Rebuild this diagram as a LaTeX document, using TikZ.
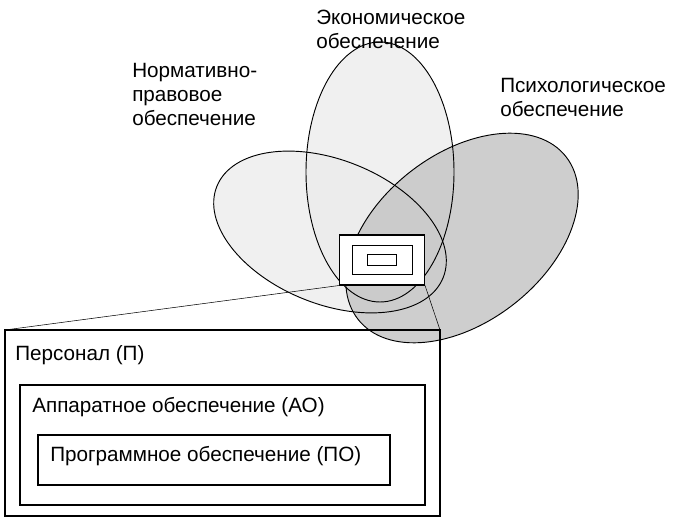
\documentclass[tikz,border=0pt]{standalone}
\usepackage{fontspec}
\setmainfont{Liberation Sans}
\begin{document}
\begin{tikzpicture}[x=0.75pt,y=-0.75pt,
  lbl/.style={font=\fontsize{15.5}{18}\selectfont,align=left,anchor=north west,inner sep=0},
  box/.style={draw,line width=0.8pt}]
\useasboundingbox (0,0) rectangle (673,523);
\begin{scope}[shift={(330,232)},rotate=-22]
\fill[gray!12] (0,0) ellipse [x radius=122,y radius=72];
\end{scope}
\fill[gray!15,opacity=0.8] (380,172) ellipse [x radius=74,y radius=130];
\begin{scope}[shift={(462,238)},rotate=38]
\fill[gray!45,opacity=0.85] (0,0) ellipse [x radius=132,y radius=84];
\draw[line width=0.7pt] (0,0) ellipse [x radius=132,y radius=84];
\end{scope}
\draw[line width=0.7pt] (380,172) ellipse [x radius=74,y radius=130];
\begin{scope}[shift={(330,232)},rotate=-22]
\draw[line width=0.7pt] (0,0) ellipse [x radius=122,y radius=72];
\end{scope}
\node[box,fill=white,minimum width=85*0.75pt,minimum height=50*0.75pt,inner sep=0] (s) at (382,260) {};
\node[draw,minimum width=60*0.75pt,minimum height=29*0.75pt,inner sep=0] (s2) at (382,260) {};
\node[draw,minimum width=29*0.75pt,minimum height=11*0.75pt,inner sep=0] (s3) at (382,260) {};
\coordinate (P1) at (5,330); \coordinate (P2) at (440,330);
\draw (s.south west) -- (P1);
\draw (s.south east) -- (P2);
\draw[box] (5,330) rectangle (440,516);
\draw[box] (20,385) rectangle (425,505);
\draw[box] (38,435) rectangle (390,485);
\node[lbl] (t1) at (15,345) {Персонал (П)};
\node[lbl] (t2) at (32,397) {Аппаратное обеспечение (АО)};
\node[lbl] (t3) at (50,446) {Программное обеспечение (ПО)};
\node[lbl] (e) at (316,10) {Экономическое\\обеспечение};
\node[lbl] (n) at (132,63) {Нормативно-\\правовое\\обеспечение};
\node[lbl] (p) at (500,78) {Психологическое\\обеспечение};
\end{tikzpicture}
\end{document}
